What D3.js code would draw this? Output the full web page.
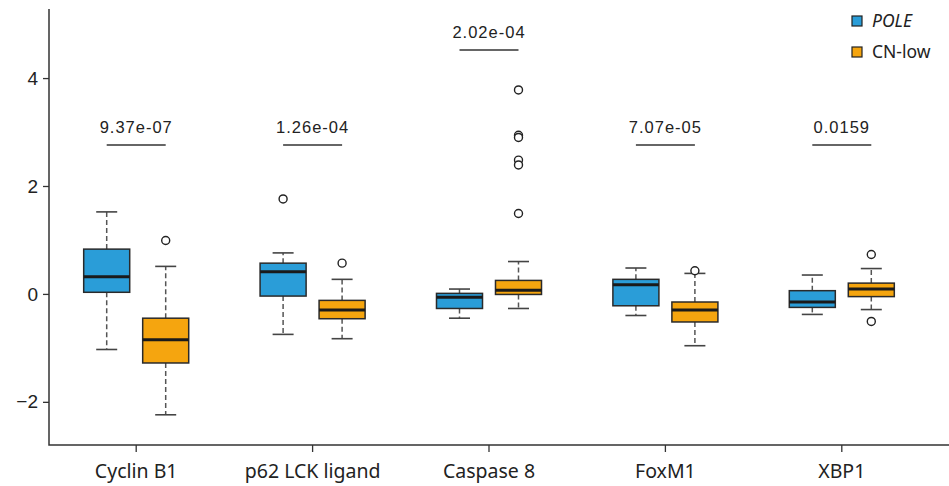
<!DOCTYPE html>
<html>
<head>
<meta charset="utf-8">
<script src="https://cdn.jsdelivr.net/npm/d3@7"></script>
<style>
  body { margin: 0; background: #fff; }
  svg { display: block; }
</style>
</head>
<body>
<div id="chart"></div>
<script>
// categories and p-values
const genes = ["Cyclin B1", "p62 LCK ligand", "Caspase 8", "FoxM1", "XBP1"];
const pvals = ["9.37e-07", "1.26e-04", "2.02e-04", "7.07e-05", "0.0159"];
const pvalY = [2.76, 2.76, 4.52, 2.76, 2.76];

// box stats per gene: [lower whisker, q1, median, q3, upper whisker]
const poleStats = [
	[-1.03, 0.03, 0.32, 0.83, 1.52],
	[-0.75, -0.04, 0.41, 0.57, 0.76],
	[-0.45, -0.27, -0.06, 0.01, 0.09],
	[-0.40, -0.22, 0.17, 0.27, 0.48],
	[-0.38, -0.25, -0.15, 0.06, 0.35]
];
const cnlowStats = [
	[-2.24, -1.28, -0.85, -0.45, 0.51],
	[-0.83, -0.46, -0.30, -0.12, 0.27],
	[-0.27, -0.01, 0.07, 0.25, 0.60],
	[-0.96, -0.52, -0.30, -0.15, 0.38],
	[-0.29, -0.05, 0.09, 0.20, 0.47]
];
const poleOutliers = [[], [1.76], [], [], []];
const cnlowOutliers = [[0.99], [0.57], [3.78, 2.94, 2.90, 2.48, 2.39, 1.49], [0.43], [0.73, -0.51]];

const groups = ["POLE", "CN-low"];
const colors = ["#2a9dd8", "#f5a50f"];
const yTicks = [-2, 0, 2, 4];

const W = 949, H = 486;
const margin = { top: 9, right: 19, bottom: 41, left: 49 };

const svg = d3.select("#chart").append("svg")
	.attr("width", W).attr("height", H);

const x = d3.scaleBand()
	.domain(genes)
	.range([margin.left - 1, W - margin.right]);

const sub = d3.scaleBand()
	.domain(groups)
	.range([0, x.bandwidth()])
	.paddingInner(0.22)
	.paddingOuter(0.605);

const y = d3.scaleLinear()
	.domain([-2.8, 5.28])
	.range([H - margin.bottom, margin.top]);

// axes
const yAxis = svg.append("g")
	.attr("transform", `translate(${margin.left},0)`)
	.call(d3.axisLeft(y).tickValues(yTicks).tickSize(6).tickPadding(5)
		.tickFormat(d => d < 0 ? "\u2212" + Math.abs(d) : d));
yAxis.select(".domain").remove();
yAxis.selectAll("line").attr("stroke", "#333").attr("stroke-width", 1.3);
yAxis.selectAll("text").attr("font-family", "Liberation Sans, Arial, sans-serif")
	.attr("font-size", 19).attr("fill", "#222");

const xAxis = svg.append("g")
	.attr("transform", `translate(0,${H - margin.bottom})`)
	.call(d3.axisBottom(x).tickSize(7).tickPadding(12));
xAxis.select(".domain").remove();
xAxis.selectAll("line").attr("stroke", "#333").attr("stroke-width", 1.3);
xAxis.selectAll("text").attr("font-family", "Noto Sans, sans-serif")
	.attr("font-size", 19.5).attr("fill", "#222");

// L-shaped frame
svg.append("path")
	.attr("d", `M${margin.left},${margin.top}V${H - margin.bottom}H${W}`)
	.attr("fill", "none").attr("stroke", "#333").attr("stroke-width", 1.5);

// boxes
const statsAll = [poleStats, cnlowStats];
const outAll = [poleOutliers, cnlowOutliers];

genes.forEach((g, i) => {
	groups.forEach((grp, k) => {
		const s = statsAll[k][i];
		const x0 = x(g) + sub(grp);
		const bw = sub.bandwidth();
		const cx = x0 + bw / 2;
		const cap = 21;
		const gg = svg.append("g");

		// whiskers
		gg.append("line")
			.attr("x1", cx).attr("x2", cx)
			.attr("y1", y(s[3])).attr("y2", y(s[4]))
			.attr("stroke", "#555").attr("stroke-width", 1.5)
			.attr("stroke-dasharray", "5,3");
		gg.append("line")
			.attr("x1", cx).attr("x2", cx)
			.attr("y1", y(s[1])).attr("y2", y(s[0]))
			.attr("stroke", "#555").attr("stroke-width", 1.5)
			.attr("stroke-dasharray", "5,3");
		[s[0], s[4]].forEach(v => {
			gg.append("line")
				.attr("x1", cx - cap / 2).attr("x2", cx + cap / 2)
				.attr("y1", y(v)).attr("y2", y(v))
				.attr("stroke", "#444").attr("stroke-width", 1.6);
		});

		gg.append("rect")
			.attr("x", x0).attr("width", bw)
			.attr("y", y(s[3])).attr("height", y(s[1]) - y(s[3]))
			.attr("fill", colors[k])
			.attr("stroke", "#2a2a2a").attr("stroke-width", 1.5);

		gg.append("line")
			.attr("x1", x0).attr("x2", x0 + bw)
			.attr("y1", y(s[2])).attr("y2", y(s[2]))
			.attr("stroke", "#1a1a1a").attr("stroke-width", 3);

		gg.selectAll("circle")
			.data(outAll[k][i])
			.join("circle")
			.attr("cx", cx).attr("cy", d => y(d))
			.attr("r", 4)
			.attr("fill", "#fff")
			.attr("stroke", "#222").attr("stroke-width", 1.4);
	});

	// significance bar
	const xa = x(g) + sub(groups[0]) + sub.bandwidth() / 2;
	const xb = x(g) + sub(groups[1]) + sub.bandwidth() / 2;
	svg.append("line")
		.attr("x1", xa).attr("x2", xb)
		.attr("y1", y(pvalY[i])).attr("y2", y(pvalY[i]))
		.attr("stroke", "#333").attr("stroke-width", 1.3);
	svg.append("text")
		.attr("x", (xa + xb) / 2).attr("y", y(pvalY[i]) - 12)
		.attr("text-anchor", "middle")
		.attr("font-family", "Liberation Sans, Arial, sans-serif")
		.attr("font-size", 16.5).attr("letter-spacing", 1)
		.attr("fill", "#222")
		.text(pvals[i]);
});

// legend
const legend = svg.append("g").attr("transform", "translate(852,16)");
groups.forEach((grp, k) => {
	const row = legend.append("g").attr("transform", `translate(0,${k * 31})`);
	row.append("rect")
		.attr("width", 10).attr("height", 10)
		.attr("fill", colors[k]).attr("stroke", "#222").attr("stroke-width", 1.2);
	row.append("text")
		.attr("x", 20).attr("y", 5).attr("dy", "0.35em")
		.attr("font-family", "Noto Sans, sans-serif")
		.attr("font-size", 17.5)
		.attr("font-style", k === 0 ? "italic" : "normal")
		.attr("fill", "#222")
		.text(grp);
});
</script>
</body>
</html>
